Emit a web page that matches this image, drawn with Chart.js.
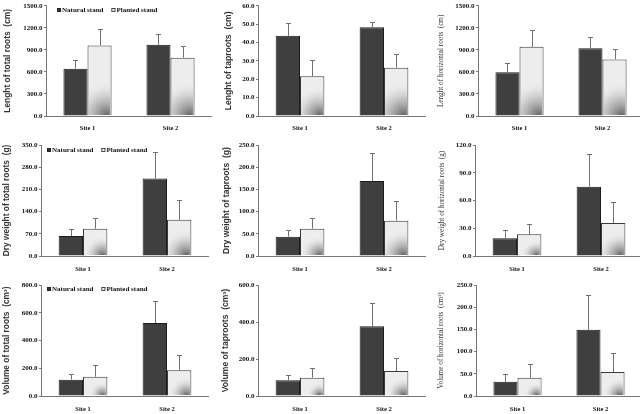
<!DOCTYPE html>
<html lang="en">
<head>
<meta charset="UTF-8">
<title>Root growth - natural vs planted stand</title>
<script src="https://cdn.jsdelivr.net/npm/chart.js"></script>
<style>
    html, body { margin: 0; padding: 0; background: #fff; overflow: hidden; }
    #wrap { position: relative; width: 640px; height: 414px; overflow: hidden; }
    #wrap canvas { position: absolute; }
</style>
</head>
<body>
<div id="wrap"></div>
<script>
    const sites = ['Site 1', 'Site 2'];
    const standNames = ['Natural stand', 'Planted stand'];

    // length (cm)
    const lenTotalNatural = [644, 968];
    const lenTotalNaturalSd = [113, 149];
    const lenTotalPlanted = [959, 793];
    const lenTotalPlantedSd = [226, 153];

    const lenTapNatural = [43.6, 48.3];
    const lenTapNaturalSd = [6.9, 3.1];
    const lenTapPlanted = [21.6, 26.3];
    const lenTapPlantedSd = [9.0, 7.6];

    const lenHorNatural = [595, 923];
    const lenHorNaturalSd = [126, 149];
    const lenHorPlanted = [941, 770];
    const lenHorPlantedSd = [230, 144];

    // dry weight (g)
    const dwTotalNatural = [63, 244];
    const dwTotalNaturalSd = [22, 83];
    const dwTotalPlanted = [86, 114];
    const dwTotalPlantedSd = [33, 64];

    const dwTapNatural = [43.5, 169];
    const dwTapNaturalSd = [15.5, 64];
    const dwTapPlanted = [61.6, 79.6];
    const dwTapPlantedSd = [24.4, 44.4];

    const dwHorNatural = [19.1, 75];
    const dwHorNaturalSd = [8.9, 35];
    const dwHorPlanted = [23.4, 35.7];
    const dwHorPlantedSd = [11.2, 23];

    // volume (cm3)
    const volTotalNatural = [118, 526];
    const volTotalNaturalSd = [43, 159];
    const volTotalPlanted = [139, 185];
    const volTotalPlantedSd = [82, 110];

    const volTapNatural = [85, 377];
    const volTapNaturalSd = [27, 126];
    const volTapPlanted = [99, 135];
    const volTapPlantedSd = [52, 70];

    const volHorNatural = [32, 149];
    const volHorNaturalSd = [17, 78];
    const volHorPlanted = [41, 54];
    const volHorPlantedSd = [30, 43];

    // axis ranges
    const axisMax = [1500, 60, 1500, 350, 250, 120, 800, 600, 250];
    const axisStep = [300, 10, 300, 70, 50, 30, 200, 200, 50];

    const titles = [
        'Lenght of total roots  (cm)', 'Lenght of taproots  (cm)', 'Lenght of horizontal roots  (cm)',
        'Dry weight of total roots  (g)', 'Dry weight of taproots  (g)', 'Dry weight of horizontal roots  (g)',
        'Volume of total roots  (cm\u00b3)', 'Volume of taproots  (cm\u00b3)', 'Volume of horizontal roots  (cm\u00b3)'
    ];

    const series = [
        [lenTotalNatural, lenTotalNaturalSd, lenTotalPlanted, lenTotalPlantedSd],
        [lenTapNatural, lenTapNaturalSd, lenTapPlanted, lenTapPlantedSd],
        [lenHorNatural, lenHorNaturalSd, lenHorPlanted, lenHorPlantedSd],
        [dwTotalNatural, dwTotalNaturalSd, dwTotalPlanted, dwTotalPlantedSd],
        [dwTapNatural, dwTapNaturalSd, dwTapPlanted, dwTapPlantedSd],
        [dwHorNatural, dwHorNaturalSd, dwHorPlanted, dwHorPlantedSd],
        [volTotalNatural, volTotalNaturalSd, volTotalPlanted, volTotalPlantedSd],
        [volTapNatural, volTapNaturalSd, volTapPlanted, volTapPlantedSd],
        [volHorNatural, volHorNaturalSd, volHorPlanted, volHorPlantedSd]
    ];

    // layout of the 3x3 grid (page pixels)
    const colX = [0, 213, 428];
    const rowY = [0, 138, 276];
    const rowTop = [5, 145, 285];
    const rowBottom = [116, 256, 396];
    const rowLabelPad = [8, 9.5, 9];
    const plotLeft = [46, 258, 478, 41, 258, 475, 41, 258, 476];
    const plotRight = [212, 426, 644, 209, 426, 643, 209, 426, 642];
    const titlePad = [3, 10, 8.5, 2, 8, 10, 2, 7.5, 8.5];
    const legendPos = [[57, 10], null, null, [47, 12], null, null, [47, 13], null, null];

    // light bars get a dark smudge in the lower right corner
    const shadePlugin = {
        id: 'shade',
        afterDatasetDraw(chart, args) {
            if (args.index !== 1) return;
            const ctx = chart.ctx;
            args.meta.data.forEach(bar => {
                const { x, y, base, width } = bar.getProps(['x', 'y', 'base', 'width'], true);
                const l = x - width / 2 + 1, r = x + width / 2 - 1, t = y + 1, b = base - 0.5;
                const h = b - t;
                if (h <= 0) return;
                ctx.save();
                ctx.beginPath();
                ctx.rect(l, t, r - l, h);
                ctx.clip();
                const rad = Math.min(h * 0.75, 34);
                const g = ctx.createRadialGradient(r - 4, b, 0, r - 4, b, rad);
                g.addColorStop(0, 'rgba(80,80,80,0.85)');
                g.addColorStop(0.5, 'rgba(150,150,150,0.45)');
                g.addColorStop(1, 'rgba(235,235,235,0)');
                ctx.fillStyle = g;
                ctx.fillRect(l, t, r - l, h);
                ctx.restore();
            });
        }
    };

    // upper error bars
    const errorPlugin = {
        id: 'errorBars',
        afterDatasetsDraw(chart) {
            const ctx = chart.ctx;
            const ys = chart.scales.y;
            ctx.save();
            ctx.strokeStyle = '#707070';
            ctx.lineWidth = 1;
            chart.data.datasets.forEach((ds, i) => {
                chart.getDatasetMeta(i).data.forEach((bar, j) => {
                    const top = Math.round(ys.getPixelForValue(ds.data[j] + ds.sd[j])) + 0.5;
                    const x = Math.round(bar.x) + 0.5;
                    ctx.beginPath();
                    ctx.moveTo(x, bar.y);
                    ctx.lineTo(x, top);
                    ctx.moveTo(x - 2.5, top);
                    ctx.lineTo(x + 2.5, top);
                    ctx.stroke();
                });
            });
            ctx.restore();
        }
    };

    const legendPlugin = {
        id: 'standLegend',
        afterDraw(chart, args, opts) {
            if (!opts.show) return;
            const ctx = chart.ctx;
            let x = opts.x;
            const y = opts.y;
            ctx.save();
            ctx.font = 'bold 7px "Liberation Serif"';
            ctx.textBaseline = 'middle';
            chart.data.datasets.forEach(ds => {
                ctx.fillStyle = ds.legendFill;
                ctx.fillRect(x, y - 2, 4, 4);
                ctx.strokeStyle = '#222';
                ctx.lineWidth = 0.8;
                ctx.strokeRect(x + 0.4, y - 1.6, 3.2, 3.2);
                ctx.fillStyle = '#111';
                ctx.fillText(ds.label, x + 5, y + 0.5);
                x += 5 + ctx.measureText(ds.label).width + 8;
            });
            ctx.restore();
        }
    };

    const wrap = document.getElementById('wrap');

    for (let p = 0; p < 9; p++) {
        const col = p % 3, row = Math.floor(p / 3);
        const cx = colX[col], cy = rowY[row];
        const cw = plotRight[p] - cx, ch = 138;
        const canvas = document.createElement('canvas');
        canvas.width = cw;
        canvas.height = ch;
        canvas.style.left = cx + 'px';
        canvas.style.top = cy + 'px';
        canvas.style.width = cw + 'px';
        canvas.style.height = ch + 'px';
        wrap.appendChild(canvas);

        const [nat, natSd, pl, plSd] = series[p];
        const yWidth = plotLeft[p] - cx;
        const xHeight = cy + ch - rowBottom[row];
        const titleFont = col === 2
            ? { family: '"Liberation Serif"', size: 7.2, weight: 'normal' }
            : { family: '"Liberation Sans"', size: col === 0 ? 8.4 : 8.6, weight: 'bold' };
        const lg = legendPos[p];

        new Chart(canvas, {
            type: 'bar',
            data: {
                labels: sites,
                datasets: [{
                    label: standNames[0],
                    data: nat,
                    sd: natSd,
                    backgroundColor: '#3f3f3f',
                    borderColor: '#1c1c1c',
                    borderWidth: 1,
                    legendFill: '#333'
                }, {
                    label: standNames[1],
                    data: pl,
                    sd: plSd,
                    backgroundColor: '#ededed',
                    borderColor: '#3a3a3a',
                    borderWidth: 1,
                    legendFill: '#eee'
                }]
            },
            options: {
                responsive: false,
                maintainAspectRatio: false,
                animation: false,
                devicePixelRatio: 1,
                categoryPercentage: 0.58,
                barPercentage: 1,
                layout: { padding: { top: rowTop[row] - cy, right: 0, left: 0, bottom: 0 } },
                plugins: {
                    legend: { display: false },
                    tooltip: { enabled: false },
                    standLegend: { show: !!lg, x: lg ? lg[0] : 0, y: lg ? lg[1] : 0 }
                },
                scales: {
                    x: {
                        grid: { display: false, drawTicks: false },
                        border: { color: '#777', width: 1 },
                        ticks: {
                            padding: rowLabelPad[row],
                            color: '#111',
                            font: { family: '"Liberation Serif"', size: 6.5, weight: 'bold' }
                        },
                        afterFit: s => { s.height = xHeight; }
                    },
                    y: {
                        min: 0,
                        max: axisMax[p],
                        grid: { display: true, drawOnChartArea: false, tickLength: 2, color: '#777' },
                        border: { color: '#777', width: 1 },
                        ticks: {
                            stepSize: axisStep[p],
                            padding: 1.5,
                            color: '#111',
                            font: { family: '"Liberation Serif"', size: 7, weight: 'bold' },
                            callback: v => v.toFixed(1)
                        },
                        title: {
                            display: true,
                            text: titles[p],
                            color: '#333',
                            font: titleFont,
                            padding: { top: titlePad[p], bottom: 0 }
                        },
                        afterFit: s => { s.width = yWidth; }
                    }
                }
            },
            plugins: [shadePlugin, errorPlugin, legendPlugin]
        });
    }
</script>
</body>
</html>
